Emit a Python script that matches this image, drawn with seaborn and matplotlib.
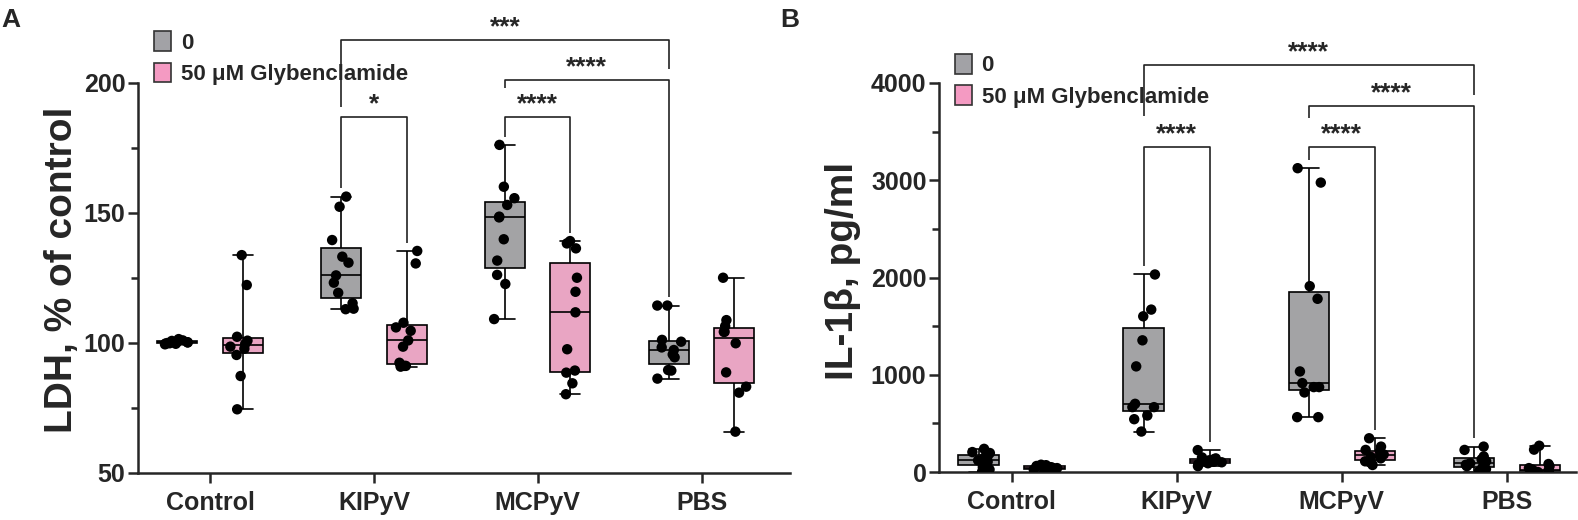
import warnings
import numpy as np
import pandas as pd
import matplotlib
matplotlib.use("Agg")
import matplotlib.pyplot as plt
from matplotlib.patches import Patch
from matplotlib.ticker import MultipleLocator
import seaborn as sns

warnings.filterwarnings("ignore")
np.random.seed(3)  # fixed jitter for the dots

groups = ["Control", "KIPyV", "MCPyV", "PBS"]
treatments = ["0", "50 \u03bcM Glybenclamide"]
box_colors = ["#A2A2A6", "#F49AC2"]

# panel A: LDH, % of control
ldh_control_0 = [101.5, 101.0, 100.8, 100.5, 100.3, 100.2, 100.0, 99.9, 99.8, 99.7, 99.5]
ldh_control_gly = [133.8, 122.3, 102.4, 100.9, 99.7, 98.6, 97.8, 95.4, 87.3, 74.5]
ldh_kipyv_0 = [156.3, 152.4, 139.6, 133.2, 130.9, 126.0, 123.2, 119.3, 115.3, 113.2, 113.0]
ldh_kipyv_gly = [135.4, 130.6, 107.8, 106.0, 104.7, 101.0, 98.6, 92.4, 91.2, 91.2, 90.9]
ldh_mcpyv_0 = [176.2, 160.1, 155.7, 153.1, 148.6, 148.3, 139.9, 131.7, 126.2, 122.7, 109.2]
ldh_mcpyv_gly = [139.2, 138.3, 136.4, 125.1, 119.7, 111.8, 97.6, 89.4, 88.6, 84.5, 80.3]
ldh_pbs_0 = [114.4, 114.4, 101.2, 100.5, 98.3, 97.3, 95.6, 94.5, 89.6, 89.4, 86.3]
ldh_pbs_gly = [125.1, 108.8, 106.5, 104.3, 104.3, 99.9, 88.7, 83.2, 80.9, 65.9]

# panel B: IL-1beta, pg/ml
il_control_0 = [238, 205, 195, 160, 150, 120, 105, 90, 50, 25, 5]
il_control_gly = [75, 70, 62, 55, 50, 45, 40, 35, 30, 25, 5]
il_kipyv_0 = [2031, 1670, 1601, 1354, 1086, 701, 667, 667, 581, 543, 416]
il_kipyv_gly = [225, 150, 140, 130, 120, 115, 105, 100, 90, 80, 60]
il_mcpyv_0 = [3124, 2976, 1911, 1781, 1034, 914, 873, 873, 818, 564, 564]
il_mcpyv_gly = [347, 261, 227, 210, 180, 170, 155, 140, 110, 100, 72]
il_pbs_0 = [261, 227, 160, 130, 110, 90, 75, 60, 45, 30, 5]
il_pbs_gly = [270, 230, 82, 60, 40, 25, 15, 10, 5, 3, 0]


def make_df(series):
    rows = []
    for (g, t), vals in series.items():
        for v in vals:
            rows.append({"group": g, "treatment": t, "value": v})
    return pd.DataFrame(rows)


ldh = make_df({
    ("Control", treatments[0]): ldh_control_0, ("Control", treatments[1]): ldh_control_gly,
    ("KIPyV", treatments[0]): ldh_kipyv_0, ("KIPyV", treatments[1]): ldh_kipyv_gly,
    ("MCPyV", treatments[0]): ldh_mcpyv_0, ("MCPyV", treatments[1]): ldh_mcpyv_gly,
    ("PBS", treatments[0]): ldh_pbs_0, ("PBS", treatments[1]): ldh_pbs_gly,
})
il1b = make_df({
    ("Control", treatments[0]): il_control_0, ("Control", treatments[1]): il_control_gly,
    ("KIPyV", treatments[0]): il_kipyv_0, ("KIPyV", treatments[1]): il_kipyv_gly,
    ("MCPyV", treatments[0]): il_mcpyv_0, ("MCPyV", treatments[1]): il_mcpyv_gly,
    ("PBS", treatments[0]): il_pbs_0, ("PBS", treatments[1]): il_pbs_gly,
})

sns.set_style("ticks")
plt.rcParams["font.family"] = ["Liberation Sans", "DejaVu Sans"]
plt.rcParams["font.weight"] = "bold"
plt.rcParams["axes.linewidth"] = 1.8

fig = plt.figure(figsize=(15.78, 5.2), dpi=100)
axA = fig.add_axes([138 / 1578, 47 / 520, 652 / 1578, 390 / 520])
axB = fig.add_axes([939 / 1578, 48 / 520, 637 / 1578, 389 / 520])


def draw_panel(ax, df):
    sns.boxplot(data=df, x="group", y="value", hue="treatment", order=groups,
                hue_order=treatments, palette=box_colors, width=0.8, gap=0.39,
                whis=(0, 100), showfliers=False, linecolor="black", linewidth=1.2,
                legend=False, ax=ax)
    sns.stripplot(data=df, x="group", y="value", hue="treatment", order=groups,
                  hue_order=treatments, palette=["black", "black"], dodge=True,
                  jitter=0.16, size=7.5, legend=False, ax=ax)
    sns.despine(ax=ax)
    ax.set_xlabel("")
    ax.tick_params(axis="both", which="major", length=7, width=1.8)
    ax.tick_params(axis="y", which="minor", length=5, width=1.8)
    ax.tick_params(axis="x", labelsize=18, pad=6)
    ax.tick_params(axis="y", labelsize=18, pad=2)
    for lab in ax.get_xticklabels() + ax.get_yticklabels():
        lab.set_fontweight("bold")


def pos(g, h):
    return groups.index(g) + (-0.2 if h == 0 else 0.2)


def bracket(ax, a, b, top, low_a, low_b, label, dy):
    x1, x2 = pos(*a), pos(*b)
    ax.plot([x1, x1, x2, x2], [low_a, top, top, low_b], color="#222222",
            lw=1.2, clip_on=False, solid_capstyle="butt")
    ax.text((x1 + x2) / 2, top + dy, label, ha="center", va="bottom",
            fontsize=19, fontweight="bold")


def series_max(df, g, h):
    sel = (df["group"] == g) & (df["treatment"] == treatments[h])
    return df.loc[sel, "value"].max()


# panel A
draw_panel(axA, ldh)
axA.set_ylim(50, 200)
axA.set_xlim(-0.44, 3.54)
axA.yaxis.set_major_locator(MultipleLocator(50))
axA.yaxis.set_minor_locator(MultipleLocator(25))
axA.set_ylabel("LDH, % of control", fontsize=28, fontweight="bold")
axA.yaxis.set_label_coords(-0.089, 0.52)

padA = 3.2
bracket(axA, ("KIPyV", 0), ("PBS", 0), 216.5, 190.8, 205.4, "***", 0.3)
bracket(axA, ("MCPyV", 0), ("PBS", 0), 201.2, 198.1,
        series_max(ldh, "PBS", 0) + padA, "****", 0.3)
bracket(axA, ("KIPyV", 0), ("KIPyV", 1), 186.9, series_max(ldh, "KIPyV", 0) + padA,
        series_max(ldh, "KIPyV", 1) + padA, "*", 0.3)
bracket(axA, ("MCPyV", 0), ("MCPyV", 1), 186.9, series_max(ldh, "MCPyV", 0) + padA,
        series_max(ldh, "MCPyV", 1) + padA, "****", 0.3)

# panel B
draw_panel(axB, il1b)
axB.set_ylim(0, 4000)
axB.set_xlim(-0.44, 3.42)
axB.yaxis.set_major_locator(MultipleLocator(1000))
axB.yaxis.set_minor_locator(MultipleLocator(500))
axB.set_ylabel("IL-1\u03b2, pg/ml", fontsize=28, fontweight="bold")
axB.yaxis.set_label_coords(-0.122, 0.516)

padB = 85
bracket(axB, ("KIPyV", 0), ("PBS", 0), 4180, 3660, 3880, "****", 8)
bracket(axB, ("MCPyV", 0), ("PBS", 0), 3760, 3640,
        series_max(il1b, "PBS", 0) + padB, "****", 8)
bracket(axB, ("KIPyV", 0), ("KIPyV", 1), 3340, series_max(il1b, "KIPyV", 0) + padB,
        series_max(il1b, "KIPyV", 1) + padB, "****", 8)
bracket(axB, ("MCPyV", 0), ("MCPyV", 1), 3340, series_max(il1b, "MCPyV", 0) + padB,
        series_max(il1b, "MCPyV", 1) + padB, "****", 8)

# legends
handles = [Patch(facecolor=c, edgecolor="#333333", linewidth=1.2) for c in box_colors]
for ax, anchor in [(axA, (0.025, 1.133)), (axB, (0.025, 1.075))]:
    ax.legend(handles, treatments, loc="upper left", bbox_to_anchor=anchor,
              frameon=False, borderpad=0, borderaxespad=0, handlelength=0.75,
              handleheight=1.0, handletextpad=0.45, labelspacing=0.4,
              prop={"size": 16, "weight": "bold"})

fig.text(0.001, 0.985, "A", fontsize=19, fontweight="bold", va="top")
fig.text(0.4945, 0.985, "B", fontsize=19, fontweight="bold", va="top")

fig.savefig("out.png", dpi=100)
